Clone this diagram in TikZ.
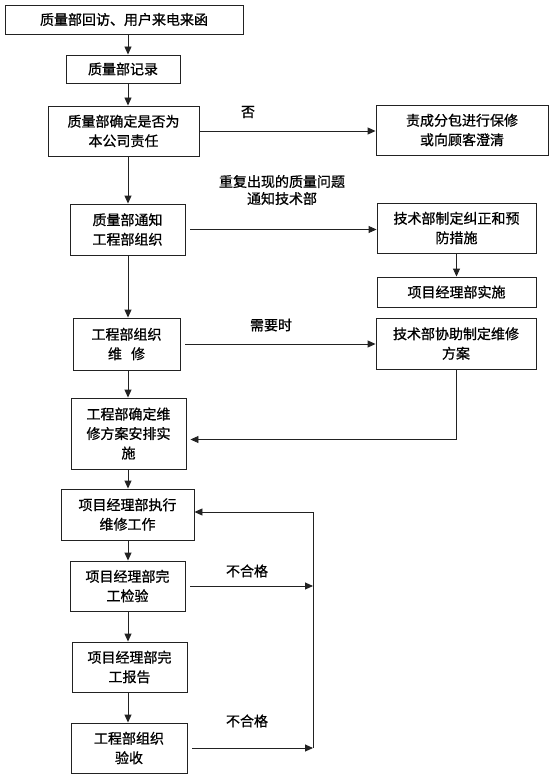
\documentclass[tikz,border=0pt]{standalone}
\usepackage{fontspec}
\newfontfamily\cjk[FakeBold=0.8]{Noto Sans CJK SC}
\usetikzlibrary{calc,arrows.meta}
\definecolor{FlowLine}{HTML}{222222}

\tikzset{
  flowbox/.style={draw=FlowLine, line width=0.9pt, inner sep=0pt, align=center,
    font=\cjk\fontsize{14}{19.5}\selectfont},
  flowarrow/.style={draw=FlowLine, line width=0.9pt, -{Triangle[length=8pt,width=7pt]}},
  flowlabel/.style={inner sep=0pt, align=center, font=\cjk\fontsize{14}{17}\selectfont}
}

\begin{document}
\begin{tikzpicture}[x=1pt,y=-1pt]
    \useasboundingbox (0,0) rectangle (553,778);

    % main column
    \node[flowbox, minimum width=238pt, minimum height=29pt] (q1) at (124,19.5) {质量部回访、用户来电来函};
    \node[flowbox, minimum width=114pt, minimum height=28pt] (q2) at (123,69) {质量部记录};
    \node[flowbox, minimum width=151pt, minimum height=50pt] (q3) at (123.5,131) {质量部确定是否为\\本公司责任};
    \node[flowbox, minimum width=115pt, minimum height=51pt] (q4) at (127.5,229.5) {质量部通知\\工程部组织};
    \node[flowbox, minimum width=107pt, minimum height=52pt] (q5) at (126.5,344) {工程部组织\\维\hspace{0.65em}修};
    \node[flowbox, minimum width=115pt, minimum height=71pt] (q6) at (128.5,433.5) {工程部确定维\\修方案安排实\\施};
    \node[flowbox, minimum width=133pt, minimum height=51pt] (q7) at (127.5,514.5) {项目经理部执行\\维修工作};
    \node[flowbox, minimum width=115pt, minimum height=50pt] (q8) at (127.5,586) {项目经理部完\\工检验};
    \node[flowbox, minimum width=115pt, minimum height=50pt] (q9) at (129.5,667) {项目经理部完\\工报告};
    \node[flowbox, minimum width=116pt, minimum height=50pt] (q10) at (129,748) {工程部组织\\验收};

    % right column
    \node[flowbox, minimum width=172pt, minimum height=50pt] (r1) at (462,130) {责成分包进行保修\\或向顾客澄清};
    \node[flowbox, minimum width=159pt, minimum height=50pt] (r2) at (456.5,228) {技术部制定纠正和预\\防措施};
    \node[flowbox, minimum width=159pt, minimum height=30pt] (r3) at (456.5,292) {项目经理部实施};
    \node[flowbox, minimum width=160pt, minimum height=51pt] (r4) at (456,343.5) {技术部协助制定维修\\方案};

    % labels
    \node[flowlabel] (no) at (248,112) {否};
    \node[flowlabel] (repeat) at (282,190) {重复出现的质量问题\\通知技术部};
    \node[flowlabel] (need) at (271,325) {需要时};
    \node[flowlabel] (fail1) at (247,571) {不合格};
    \node[flowlabel] (fail2) at (247,721) {不合格};

    \coordinate (spine) at (128,0);
    \coordinate (loop) at (313,512);

    \foreach \a/\b in {q1/q2,q2/q3,q3/q4,q4/q5,q5/q6,q6/q7,q7/q8,q8/q9,q9/q10}
      \draw[flowarrow] (\a.south -| spine) -- (\b.north -| spine);

    \draw[flowarrow] (q3.east) -- (q3.east -| r1.west);
    \draw[flowarrow, shorten <=5pt] (q4.east) -- (q4.east -| r2.west);
    \draw[flowarrow] (r2.south) -- (r3.north);
    \draw[flowarrow, shorten <=5pt] (q5.east) -- (q5.east -| r4.west);
    \draw[flowarrow, shorten >=4pt] (r4.south) |- ([yshift=-6pt]q6.east);

    % rework loop
    \draw[flowarrow] (q10.east -| loop) -- (loop) -- (loop -| q7.east);
    \draw[flowarrow, shorten <=5pt] (q8.east) -- (q8.east -| loop);
    \draw[flowarrow, shorten <=5pt] (q10.east) -- (q10.east -| loop);
\end{tikzpicture}
\end{document}
